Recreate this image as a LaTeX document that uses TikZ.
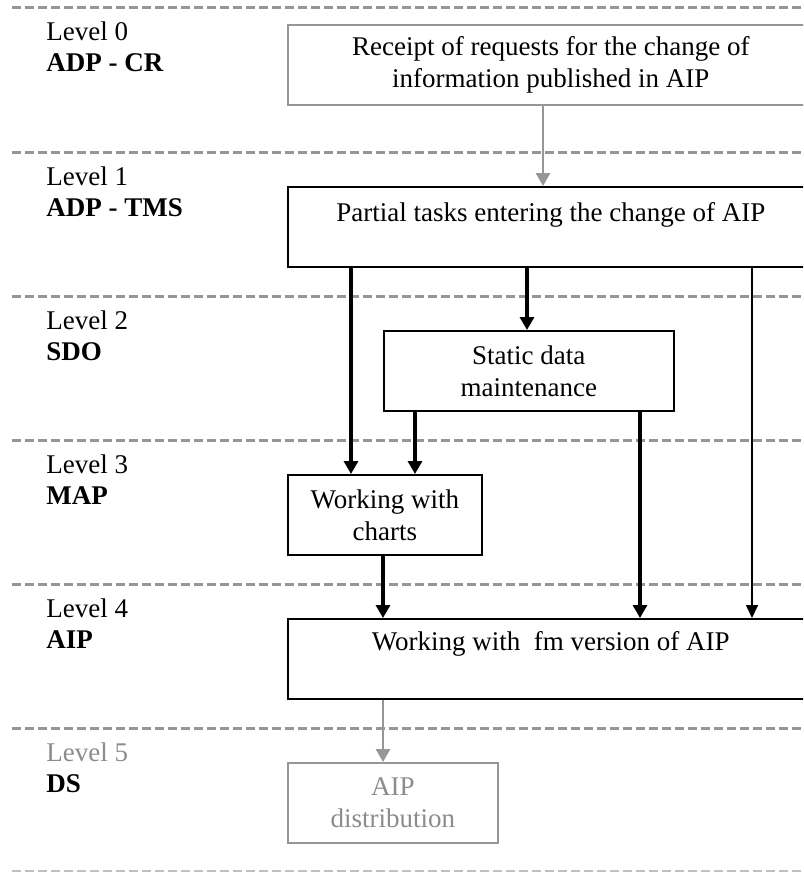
\documentclass[tikz,border=0pt]{standalone}
\usepackage{fontspec}
\setmainfont{Liberation Serif}
\usetikzlibrary{arrows.meta}

\definecolor{linegray}{RGB}{150,150,150}
\definecolor{boxgray}{RGB}{150,150,150}
\definecolor{textgray}{RGB}{140,140,140}

\tikzset{
  task/.style={draw, line width=0.8pt, inner sep=0pt, anchor=north west, align=center, minimum height=40pt},
  fadedtask/.style={task, draw=boxgray},
  levelline/.style={linegray, line width=1.5pt, dash pattern=on 4.5pt off 2pt},
  flow/.style={line width=1.6pt, -{Triangle[width=7pt,length=6.5pt]}},
  thinflow/.style={line width=0.8pt, -{Triangle[width=6pt,length=6.5pt]}},
  fadedflow/.style={boxgray, line width=1.4pt, -{Triangle[width=7pt,length=6.5pt]}}
}

\begin{document}
\begin{tikzpicture}[x=0.5pt, y=-0.5pt, font=\fontsize{13.5}{16}\selectfont]
\clip (0,0) rectangle (803,872);
\fill[white] (0,0) rectangle (803,872);

% level separators and labels
\foreach \i in {0,...,5}
  \draw[levelline] (12,8+144*\i) -- (803,8+144*\i);
\draw[levelline, linegray!60] (12,871) -- (803,871);
\foreach \i/\abbr/\col in {0/ADP - CR/black, 1/ADP - TMS/black, 2/SDO/black, 3/MAP/black, 4/AIP/black, 5/DS/textgray} {
  \node[anchor=base west, inner sep=0pt, text=\col] (level\i) at (46,41+144*\i) {Level \i};
  \node[anchor=base west, inner sep=0pt, font=\fontsize{13.5}{16}\selectfont\bfseries] (abbr\i) at (46,72+144*\i) {\abbr};
}

% tasks
\node[fadedtask, minimum width=263pt] (request) at (287,24) {Receipt of requests for the change of\\information published in AIP};
\node[task, minimum width=263pt, minimum height=0pt, text height=17.5pt, text depth=22.5pt] (tasks) at (287,186) {Partial tasks entering the change of AIP};
\node[task, minimum width=145pt] (static) at (383,330) {Static data\\maintenance};
\node[task, minimum width=97pt] (charts) at (287,474) {Working with\\charts};
\node[task, minimum width=263pt, minimum height=0pt, text height=16pt, text depth=24pt] (fmaip) at (287,618) {Working with\ \ fm version of AIP};
\node[fadedtask, minimum width=105pt, text=textgray] (distrib) at (287,762) {AIP\\distribution};

% connectors
\draw[fadedflow] ([xshift=128pt]request.south west) -- ([xshift=128pt]tasks.north west);
\draw[flow] ([xshift=32pt]tasks.south west) -- ([xshift=32pt]charts.north west);
\draw[flow] ([xshift=120pt]tasks.south west) -- ([xshift=72pt]static.north west);
\draw[thinflow] ([xshift=232.5pt]tasks.south west) -- ([xshift=232.5pt]fmaip.north west);
\draw[flow] ([xshift=16pt]static.south west) -- ([xshift=64pt]charts.north west);
\draw[flow] ([xshift=128.5pt]static.south west) -- ([xshift=176.5pt]fmaip.north west);
\draw[flow] ([xshift=48pt]charts.south west) -- ([xshift=48pt]fmaip.north west);
\draw[fadedflow] ([xshift=48pt]fmaip.south west) -- ([xshift=48pt]distrib.north west);
\end{tikzpicture}
\end{document}
